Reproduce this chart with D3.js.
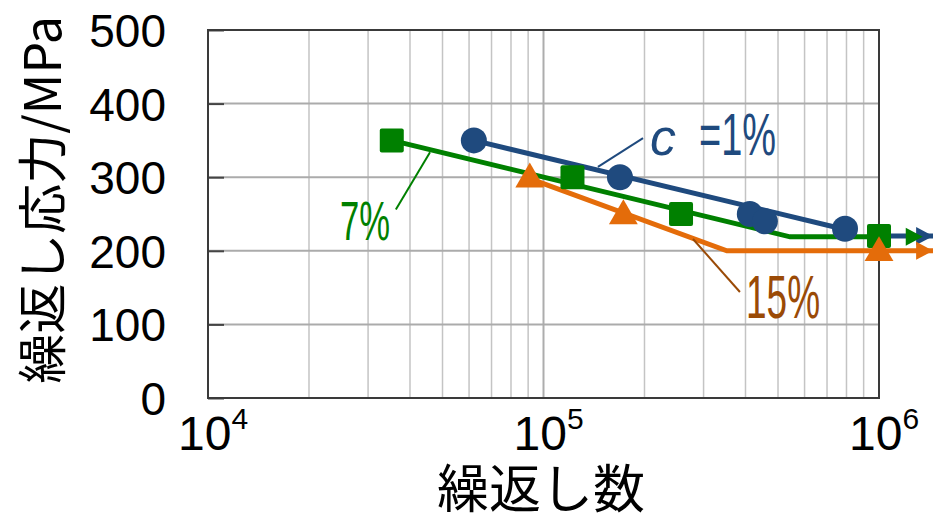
<!DOCTYPE html>
<html><head><meta charset="utf-8">
<script src="https://cdn.jsdelivr.net/npm/d3@7"></script>
<style>
html,body{margin:0;padding:0;background:#fff;}
svg{display:block;}
</style></head>
<body>
<svg id="chart" width="933" height="520"></svg>
<script>
// S-N data: cycles to failure vs. stress amplitude (MPa)
const blueN = [6.2e4, 1.69e5, 4.12e5, 4.57e5, 7.92e5];
const blueS = [350, 300, 250, 240, 230];
const greenN = [3.53e4, 1.22e5, 2.57e5, 1.0e6];
const greenS = [350, 300, 250, 220];
const orangeN = [9.1e4, 1.73e5, 1.0e6];
const orangeS = [300, 250, 200];

// fitted S-N lines (knee + fatigue limit)
const blueFitN = [6.2e4, 7.92e5];
const blueFitS = [350, 229];
const blueLimitN = [1.0e6, 1.45e6];
const blueLimitS = [220, 220];
const greenFitN = [3.53e4, 5.43e5, 1.0e6];
const greenFitS = [350, 219, 219];
const greenArrowTip = [1.35e6, 219];
const orangeFitN = [9.1e4, 3.52e5, 1.45e6];
const orangeFitS = [298, 200, 200];

const yTicks = [0, 100, 200, 300, 400, 500];
const xTickValues = [1e4, 1e5, 1e6];
const xTickExp = ["4", "5", "6"];

const colors = {blue: "#1f4a7e", green: "#008000", orange: "#e46c0a", brown: "#9a4a06"};

const svg = d3.select("#chart");
const x = d3.scaleLog().domain([1e4, 1e6]).range([208, 879]);
const y = d3.scaleLinear().domain([0, 500]).range([398, 30]);

// grid
const gridV = x.ticks().filter(v => v > 1e4 && v < 1e6);
svg.append("g").selectAll("line").data(gridV).join("line")
  .attr("x1", d => x(d)).attr("x2", d => x(d))
  .attr("y1", y(0)).attr("y2", y(500))
  .attr("stroke", d => d === 1e5 ? "#adadad" : "#c4c4c4")
  .attr("stroke-width", d => d === 1e5 ? 2 : 1.5);
svg.append("g").selectAll("line").data(yTicks.filter(v => v > 0 && v < 500)).join("line")
  .attr("x1", x(1e4)).attr("x2", x(1e6))
  .attr("y1", d => y(d)).attr("y2", d => y(d))
  .attr("stroke", "#ababab").attr("stroke-width", 2);

// inner y ticks
const yIn = svg.append("g").attr("transform", `translate(${x(1e4)},0)`)
  .call(d3.axisRight(y).tickValues(yTicks).tickSize(16).tickFormat(""));
yIn.select(".domain").remove();
yIn.selectAll("line").attr("stroke", "#444").attr("stroke-width", 2);

// frame
svg.append("rect").attr("x", x(1e4)).attr("y", y(500))
  .attr("width", x(1e6) - x(1e4)).attr("height", y(0) - y(500))
  .attr("fill", "none").attr("stroke", "#3a3a3a").attr("stroke-width", 2);

// y tick labels
const yAx = svg.append("g").attr("transform", `translate(166,0)`)
  .call(d3.axisLeft(y).tickValues(yTicks).tickSize(0).tickPadding(0));
yAx.select(".domain").remove();
yAx.selectAll("text").attr("font-family", "Liberation Sans, Arial, sans-serif")
  .attr("font-size", 46).attr("fill", "#000").attr("dy", "0.36em");

// x tick labels 10^n
const xl = svg.append("g").selectAll("text").data(xTickValues).join("text")
  .attr("x", d => x(d) - 30).attr("y", 450)
  .attr("font-family", "Liberation Sans, Arial, sans-serif").attr("font-size", 48)
  .attr("fill", "#000");
xl.append("tspan").text("10");
xl.append("tspan").attr("dy", -21).attr("font-size", 30).text((d, i) => xTickExp[i]);

// axis titles
svg.append("text").attr("x", 541).attr("y", 508).attr("text-anchor", "middle")
  .attr("font-family", "Noto Sans CJK JP, sans-serif").attr("font-size", 52)
  .attr("fill", "#000").text("繰返し数");
svg.append("text").attr("transform", "translate(61,200) rotate(-90)")
  .attr("text-anchor", "middle")
  .attr("font-family", "Noto Sans CJK JP, sans-serif").attr("font-size", 50)
  .attr("fill", "#000").text("繰返し応力/MPa");

const line = d3.line().x(d => x(d[0])).y(d => y(d[1]));
const zip = (a, b) => a.map((v, i) => [v, b[i]]);
const arrowHead = (tip, color) => {
  const tx = x(tip[0]), ty = y(tip[1]);
  svg.append("path").attr("d", `M${tx},${ty} L${tx - 17},${ty - 9} L${tx - 17},${ty + 9} Z`)
    .attr("fill", color);
};

// fitted lines
svg.append("path").attr("d", line(zip(blueLimitN, blueLimitS)))
  .attr("fill", "none").attr("stroke", colors.blue).attr("stroke-width", 5);
arrowHead([blueLimitN[1], blueLimitS[1]], colors.blue);
svg.append("path").attr("d", line(zip(orangeFitN, orangeFitS)))
  .attr("fill", "none").attr("stroke", colors.orange).attr("stroke-width", 5);
arrowHead([orangeFitN[2], orangeFitS[2]], colors.orange);
svg.append("path").attr("d", line(zip(greenFitN, greenFitS)))
  .attr("fill", "none").attr("stroke", colors.green).attr("stroke-width", 5);
arrowHead(greenArrowTip, colors.green);
svg.append("path").attr("d", line(zip(blueFitN, blueFitS)))
  .attr("fill", "none").attr("stroke", colors.blue).attr("stroke-width", 5);

// markers
svg.append("g").selectAll("circle").data(zip(blueN, blueS)).join("circle")
  .attr("cx", d => x(d[0])).attr("cy", d => y(d[1])).attr("r", 13)
  .attr("fill", colors.blue);
svg.append("g").selectAll("rect").data(zip(greenN, greenS)).join("rect")
  .attr("x", d => x(d[0]) - 12).attr("y", d => y(d[1]) - 12)
  .attr("width", 24).attr("height", 24).attr("rx", 2)
  .attr("fill", colors.green);
const tri = d3.symbol().type(d3.symbolTriangle).size(360);
svg.append("g").selectAll("path").data(zip(orangeN, orangeS)).join("path")
  .attr("transform", d => `translate(${x(d[0])},${y(d[1]) + 2})`)
  .attr("d", tri).attr("fill", colors.orange);

// leader lines
const leaders = [
  {from: [1.453e5, 314], to: [1.98e5, 353], color: colors.blue},
  {from: [4.59e4, 334], to: [3.63e4, 256], color: colors.green},
  {from: [2.79e5, 216], to: [3.85e5, 144], color: colors.brown}
];
svg.append("g").selectAll("line").data(leaders).join("line")
  .attr("x1", d => x(d.from[0])).attr("y1", d => y(d.from[1]))
  .attr("x2", d => x(d.to[0])).attr("y2", d => y(d.to[1]))
  .attr("stroke", d => d.color).attr("stroke-width", 2);

// series labels
const labels = [
  {text: "c", at: [2.077e5, 330], size: 52, len: null, italic: true, color: colors.blue},
  {text: "=1%", at: [2.907e5, 330], size: 60, len: 77, italic: false, color: colors.blue},
  {text: "7%", at: [2.474e4, 215], size: 56, len: 50, italic: false, color: colors.green},
  {text: "15%", at: [4.015e5, 109], size: 62, len: 74, italic: false, color: colors.brown}
];
labels.forEach(l => {
  const t = svg.append("text").attr("x", x(l.at[0])).attr("y", y(l.at[1]))
    .attr("font-family", "Liberation Sans, Arial, sans-serif")
    .attr("font-size", l.size).attr("fill", l.color).text(l.text);
  if (l.italic) t.attr("font-style", "italic");
  if (l.len) t.attr("textLength", l.len).attr("lengthAdjust", "spacingAndGlyphs");
});
</script>
</body></html>
